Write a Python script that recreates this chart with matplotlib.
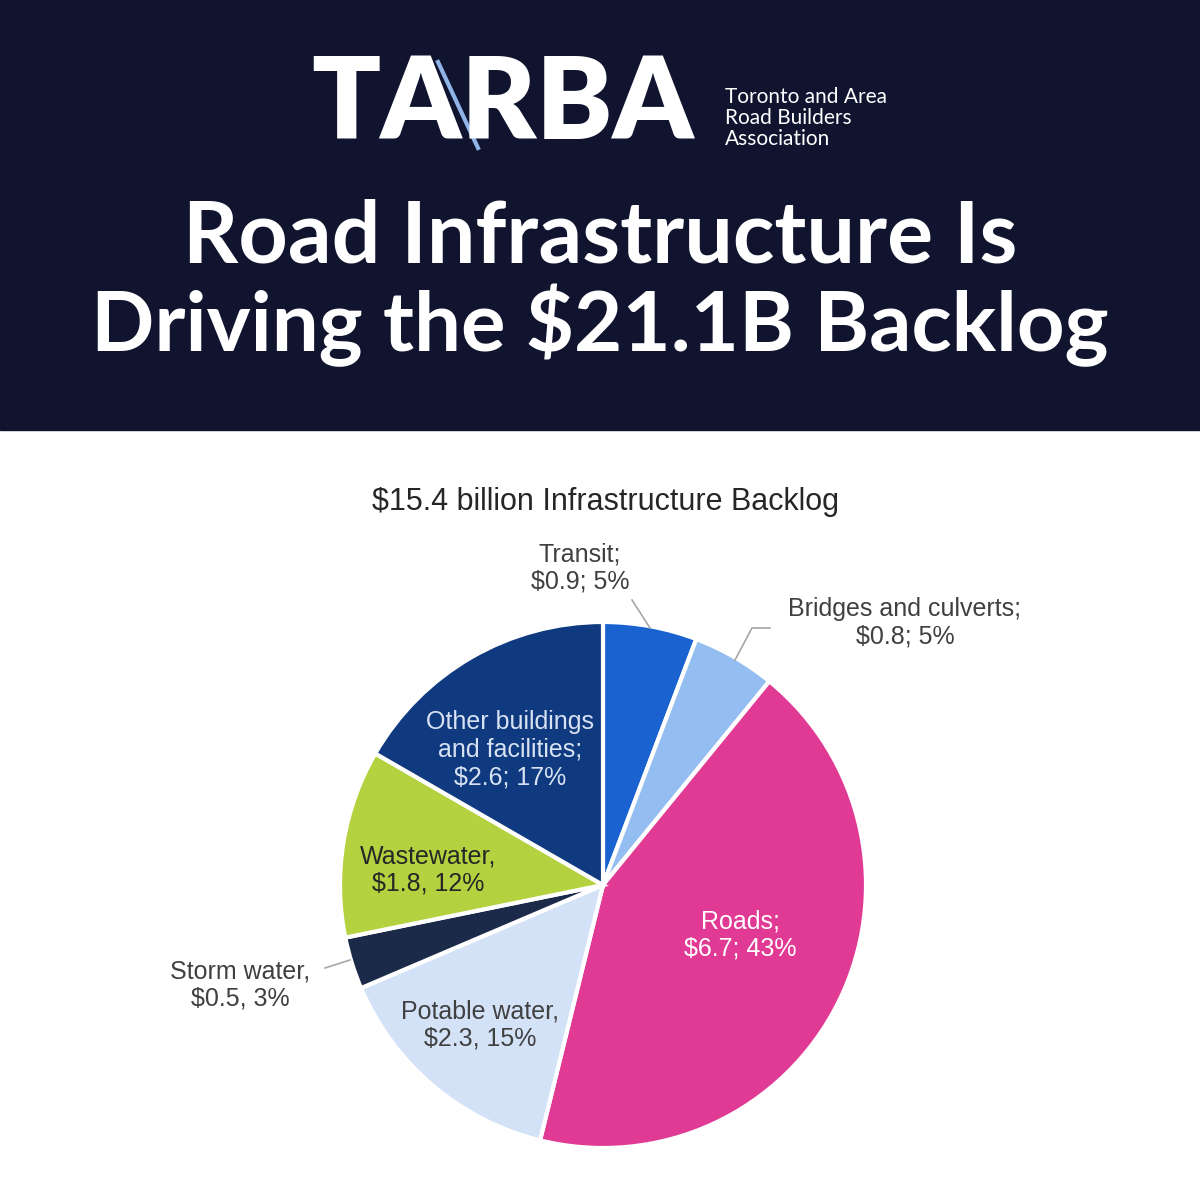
import numpy as np
import matplotlib.pyplot as plt
from matplotlib.lines import Line2D

categories = ["Transit", "Bridges and culverts", "Roads", "Potable water",
              "Storm water", "Wastewater", "Other buildings and facilities"]
values = [0.9, 0.8, 6.7, 2.3, 0.5, 1.8, 2.6]
labels = ["Transit;\n$0.9; 5%", "Bridges and culverts;\n$0.8; 5%", "Roads;\n$6.7; 43%",
          "Potable water,\n$2.3, 15%", "Storm water,\n$0.5, 3%", "Wastewater,\n$1.8, 12%",
          "Other buildings\nand facilities;\n$2.6; 17%"]
colors = ["#1a62d0", "#94bef2", "#e03a95", "#d4e2f8", "#1c2a4a", "#b4d240", "#0f3a80"]

NAVY = "#10142f"
fig = plt.figure(figsize=(12, 12), dpi=100)

# header band
fig.patches.append(plt.Rectangle((0, 1 - 430 / 1200), 1, 430 / 1200, transform=fig.transFigure,
                                 color=NAVY, zorder=0))
fig.text(311 / 1200, 1 - 106 / 1200, "TARBA", color="white", fontsize=82, fontweight="heavy",
         family="Lato", va="center", ha="left")
fig.add_artist(Line2D([438 / 1200, 478 / 1200], [1 - 62 / 1200, 1 - 148 / 1200],
                      transform=fig.transFigure, color="#8fb4e8", lw=3))
fig.text(725 / 1200, 1 - 118 / 1200, "Toronto and Area\nRoad Builders\nAssociation", color="white",
         fontsize=15, family="Lato", va="center", ha="left", linespacing=1.05)
fig.text(0.5, 1 - 238 / 1200, "Road Infrastructure Is", color="white", fontsize=62,
         fontweight="bold", family="Lato", ha="center", va="center")
fig.text(0.5, 1 - 325 / 1200, "Driving the $21.1B Backlog", color="white", fontsize=60,
         fontweight="bold", family="Lato", ha="center", va="center")

fig.text(605 / 1200, 1 - 502 / 1200, "$15.4 billion Infrastructure Backlog", color="#262626",
         fontsize=22, family="Liberation Sans", ha="center", va="center")

cx, cy, r = 603, 885, 263
ax = fig.add_axes([(cx - r) / 1200, (1200 - cy - r) / 1200, 2 * r / 1200, 2 * r / 1200])
ax.pie(values, colors=colors, startangle=90, counterclock=False, radius=1,
       wedgeprops=dict(edgecolor="white", linewidth=3))
ax.set_xlim(-1, 1)
ax.set_ylim(-1, 1)
ax.set_aspect("equal")
ax.axis("off")


def px(x, y):
    return (x - cx) / r, (cy - y) / r


label_pos = [(580, 568), (905, 623), (740, 935), (480, 1025), (240, 985), (428, 870), (510, 750)]
label_col = ["#404040", "#404040", "white", "#404040", "#404040", "#262626", "#d8e2f2"]
for lab, (x, y), c in zip(labels, label_pos, label_col):
    tx, ty = px(x, y)
    ax.text(tx, ty, lab, color=c, fontsize=18, family="Liberation Sans", ha="center",
            va="center", linespacing=1.2, clip_on=False)

# leader lines
for pts in [[(650, 628), (632, 600)], [(735, 660), (752, 628), (770, 628)],
            [(350, 960), (325, 968)]]:
    xs, ys = zip(*[px(*p) for p in pts])
    ax.plot(xs, ys, color="#a6a6a6", lw=1.2, clip_on=False)

fig.savefig("out.png", dpi=100)
